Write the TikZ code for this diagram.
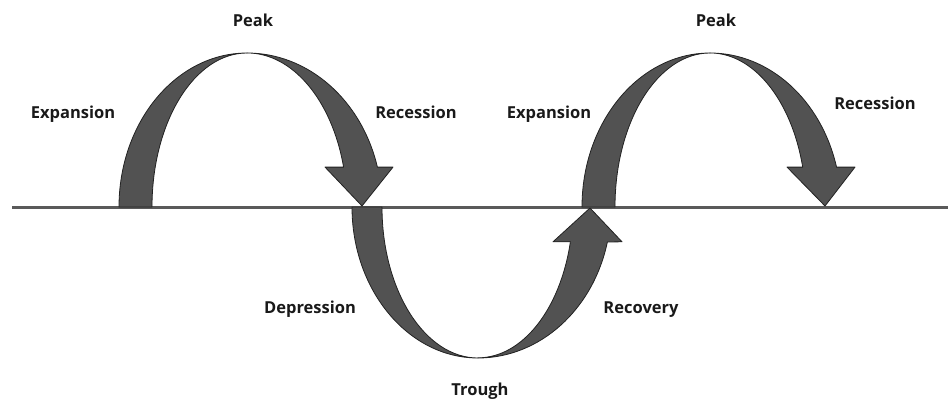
\documentclass[tikz,border=0pt]{standalone}
\usepackage{fontspec}
\setmainfont{Open Sans}
\usetikzlibrary{positioning}
\definecolor{bandfill}{HTML}{525252}
\definecolor{bandedge}{HTML}{222222}
\definecolor{axisgray}{HTML}{5A5A5A}

\begin{document}
\begin{tikzpicture}[x=1pt, y=1pt,
    lbl/.style={font=\fontsize{16.5}{20}\selectfont\bfseries, inner sep=0pt, anchor=base, text=black!90},
    band/.style={fill=bandfill, draw=bandedge, line width=0.8pt, line join=round}]
    \useasboundingbox (0,0) rectangle (948,400);
    % axis
    \coordinate (axL) at (12,193);
    \coordinate (axR) at (948,193);
    \draw[axisgray, line width=3pt] (axL) -- (axR);
    % first peak
    \coordinate (peakA) at (247,347);
    \draw[band] (119,193) arc[start angle=180, end angle=90, x radius=128, y radius=154]
        arc[start angle=90, end angle=180, x radius=95, y radius=154] -- cycle;
    \draw[band] (peakA) arc[start angle=90, end angle=15, x radius=135, y radius=154]
        -- (393,232.9) -- (362,194) -- (325,232.9) -- (343.6,232.9)
        arc[start angle=15, end angle=90, x radius=100, y radius=154] -- cycle;
    % trough
    \coordinate (troughC) at (478,42);
    \draw[band] (352,193) arc[start angle=180, end angle=270, x radius=126, y radius=151]
        arc[start angle=270, end angle=180, x radius=96, y radius=151] -- cycle;
    \draw[band] (troughC) arc[start angle=270, end angle=346.6, x radius=133, y radius=151]
        -- (622,158.2) -- (590,192) -- (553,158.2) -- (570.4,158.2)
        arc[start angle=346.6, end angle=270, x radius=95, y radius=151] -- cycle;
    % second peak
    \coordinate (peakB) at (710,347);
    \draw[band] (582,193) arc[start angle=180, end angle=90, x radius=128, y radius=154]
        arc[start angle=90, end angle=180, x radius=95, y radius=154] -- cycle;
    \draw[band] (peakB) arc[start angle=90, end angle=15, x radius=131, y radius=154]
        -- (855,232.9) -- (825,194) -- (787,232.9) -- (802.7,232.9)
        arc[start angle=15, end angle=90, x radius=96, y radius=154] -- cycle;
    % labels
    \node[lbl] (expA) at (73,282) {Expansion};
    \node[lbl] (peakAlbl) at (253,373) {Peak};
    \node[lbl] (recA) at (416,282) {Recession};
    \node[lbl] (expB) at (549,282) {Expansion};
    \node[lbl] (peakBlbl) at (716,373) {Peak};
    \node[lbl] (recB) at (875,291) {Recession};
    \node[lbl] (dep) at (310,87) {Depression};
    \node[lbl] (recov) at (641,87) {Recovery};
    \node[lbl] (trough) at (480,5) {Trough};
\end{tikzpicture}
\end{document}
